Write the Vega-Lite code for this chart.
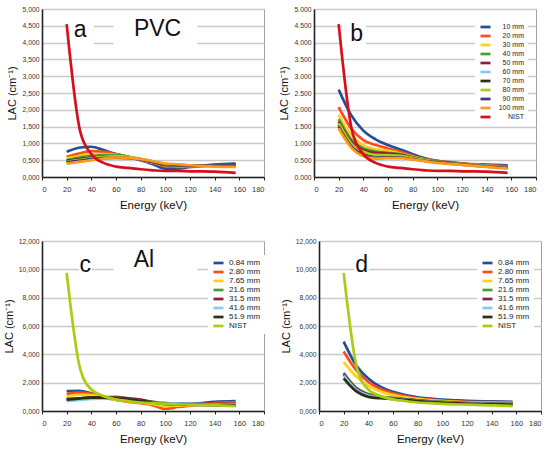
{
  "$schema": "https://vega.github.io/schema/vega-lite/v6.json",
  "padding": {"left": 2, "top": 5, "right": 4, "bottom": 2},
  "background": "white",
  "spacing": 25,
  "resolve": {"scale": {"color": "independent"}, "legend": {"color": "independent"}},
  "config": {
    "font": "Liberation Sans",
    "view": {"stroke": "#a0a0a0", "strokeWidth": 1},
    "axis": {
      "labelFont": "Liberation Sans", "labelColor": "#333",
      "titleFont": "Liberation Sans", "titleFontWeight": "normal", "titleColor": "#111",
      "domainColor": "#222", "domainWidth": 1.6,
      "gridColor": "#cacaca", "gridWidth": 1.3, "tickColor": "#222"
    },
    "axisX": {"grid": false, "tickSize": 3, "labelFontSize": 7.5, "labelPadding": 5, "titleFontSize": 11.5, "titlePadding": 7},
    "axisY": {"ticks": false, "labelFontSize": 6.8, "labelPadding": 3, "titleFontSize": 11, "titlePadding": 4},
    "legend": {
      "orient": "none", "fillColor": "white", "padding": 4,
      "symbolType": "stroke", "symbolStrokeWidth": 2.5, "symbolSize": 100, "clipHeight": 8,
      "labelFontSize": 8, "labelColor": "#222", "rowPadding": 1, "title": null
    },
    "line": {"strokeWidth": 2.7, "interpolate": "monotone"}
  },
  "datasets": {
    "pvcA": [
      {"s":"10 mm","e":20,"v":0.75},{"s":"10 mm","e":30,"v":0.87},{"s":"10 mm","e":40,"v":0.9},{"s":"10 mm","e":50,"v":0.8},{"s":"10 mm","e":60,"v":0.68},{"s":"10 mm","e":70,"v":0.6},{"s":"10 mm","e":80,"v":0.5},{"s":"10 mm","e":90,"v":0.38},{"s":"10 mm","e":100,"v":0.25},{"s":"10 mm","e":110,"v":0.25},{"s":"10 mm","e":120,"v":0.3},{"s":"10 mm","e":140,"v":0.37},{"s":"10 mm","e":157,"v":0.4},
      {"s":"20 mm","e":20,"v":0.6},{"s":"20 mm","e":30,"v":0.7},{"s":"20 mm","e":40,"v":0.77},{"s":"20 mm","e":50,"v":0.75},{"s":"20 mm","e":60,"v":0.68},{"s":"20 mm","e":70,"v":0.6},{"s":"20 mm","e":80,"v":0.5},{"s":"20 mm","e":90,"v":0.42},{"s":"20 mm","e":100,"v":0.32},{"s":"20 mm","e":110,"v":0.3},{"s":"20 mm","e":120,"v":0.3},{"s":"20 mm","e":140,"v":0.34},{"s":"20 mm","e":157,"v":0.35},
      {"s":"30 mm","e":20,"v":0.55},{"s":"30 mm","e":30,"v":0.62},{"s":"30 mm","e":40,"v":0.68},{"s":"30 mm","e":50,"v":0.68},{"s":"30 mm","e":60,"v":0.66},{"s":"30 mm","e":70,"v":0.6},{"s":"30 mm","e":80,"v":0.52},{"s":"30 mm","e":90,"v":0.43},{"s":"30 mm","e":100,"v":0.35},{"s":"30 mm","e":110,"v":0.33},{"s":"30 mm","e":120,"v":0.32},{"s":"30 mm","e":140,"v":0.34},{"s":"30 mm","e":157,"v":0.35},
      {"s":"40 mm","e":20,"v":0.5},{"s":"40 mm","e":30,"v":0.58},{"s":"40 mm","e":40,"v":0.62},{"s":"40 mm","e":50,"v":0.65},{"s":"40 mm","e":60,"v":0.65},{"s":"40 mm","e":70,"v":0.6},{"s":"40 mm","e":80,"v":0.52},{"s":"40 mm","e":90,"v":0.44},{"s":"40 mm","e":100,"v":0.36},{"s":"40 mm","e":110,"v":0.34},{"s":"40 mm","e":120,"v":0.33},{"s":"40 mm","e":140,"v":0.34},{"s":"40 mm","e":157,"v":0.34},
      {"s":"50 mm","e":20,"v":0.48},{"s":"50 mm","e":30,"v":0.52},{"s":"50 mm","e":40,"v":0.58},{"s":"50 mm","e":50,"v":0.6},{"s":"50 mm","e":60,"v":0.6},{"s":"50 mm","e":70,"v":0.58},{"s":"50 mm","e":80,"v":0.52},{"s":"50 mm","e":90,"v":0.44},{"s":"50 mm","e":100,"v":0.36},{"s":"50 mm","e":110,"v":0.35},{"s":"50 mm","e":120,"v":0.33},{"s":"50 mm","e":140,"v":0.34},{"s":"50 mm","e":157,"v":0.35},
      {"s":"60 mm","e":20,"v":0.45},{"s":"60 mm","e":30,"v":0.5},{"s":"60 mm","e":40,"v":0.55},{"s":"60 mm","e":50,"v":0.58},{"s":"60 mm","e":60,"v":0.58},{"s":"60 mm","e":70,"v":0.57},{"s":"60 mm","e":80,"v":0.52},{"s":"60 mm","e":90,"v":0.44},{"s":"60 mm","e":100,"v":0.37},{"s":"60 mm","e":110,"v":0.35},{"s":"60 mm","e":120,"v":0.34},{"s":"60 mm","e":140,"v":0.35},{"s":"60 mm","e":157,"v":0.36},
      {"s":"70 mm","e":20,"v":0.47},{"s":"70 mm","e":30,"v":0.52},{"s":"70 mm","e":40,"v":0.57},{"s":"70 mm","e":50,"v":0.6},{"s":"70 mm","e":60,"v":0.6},{"s":"70 mm","e":70,"v":0.58},{"s":"70 mm","e":80,"v":0.53},{"s":"70 mm","e":90,"v":0.45},{"s":"70 mm","e":100,"v":0.37},{"s":"70 mm","e":110,"v":0.35},{"s":"70 mm","e":120,"v":0.34},{"s":"70 mm","e":140,"v":0.35},{"s":"70 mm","e":157,"v":0.37},
      {"s":"80 mm","e":20,"v":0.46},{"s":"80 mm","e":30,"v":0.5},{"s":"80 mm","e":40,"v":0.56},{"s":"80 mm","e":50,"v":0.6},{"s":"80 mm","e":60,"v":0.62},{"s":"80 mm","e":70,"v":0.6},{"s":"80 mm","e":80,"v":0.54},{"s":"80 mm","e":90,"v":0.46},{"s":"80 mm","e":100,"v":0.38},{"s":"80 mm","e":110,"v":0.36},{"s":"80 mm","e":120,"v":0.34},{"s":"80 mm","e":140,"v":0.34},{"s":"80 mm","e":157,"v":0.35},
      {"s":"90 mm","e":20,"v":0.44},{"s":"90 mm","e":30,"v":0.48},{"s":"90 mm","e":40,"v":0.53},{"s":"90 mm","e":50,"v":0.56},{"s":"90 mm","e":60,"v":0.57},{"s":"90 mm","e":70,"v":0.56},{"s":"90 mm","e":80,"v":0.52},{"s":"90 mm","e":90,"v":0.45},{"s":"90 mm","e":100,"v":0.38},{"s":"90 mm","e":110,"v":0.36},{"s":"90 mm","e":120,"v":0.34},{"s":"90 mm","e":140,"v":0.34},{"s":"90 mm","e":157,"v":0.34},
      {"s":"100 mm","e":20,"v":0.4},{"s":"100 mm","e":30,"v":0.45},{"s":"100 mm","e":40,"v":0.5},{"s":"100 mm","e":50,"v":0.55},{"s":"100 mm","e":60,"v":0.58},{"s":"100 mm","e":70,"v":0.57},{"s":"100 mm","e":80,"v":0.53},{"s":"100 mm","e":90,"v":0.47},{"s":"100 mm","e":100,"v":0.4},{"s":"100 mm","e":110,"v":0.38},{"s":"100 mm","e":120,"v":0.35},{"s":"100 mm","e":140,"v":0.31},{"s":"100 mm","e":157,"v":0.3},
      {"s":"NIST","e":20,"v":4.55},{"s":"NIST","e":31,"v":1.35},{"s":"NIST","e":40,"v":0.68},{"s":"NIST","e":50,"v":0.42},{"s":"NIST","e":60,"v":0.31},{"s":"NIST","e":70,"v":0.27},{"s":"NIST","e":80,"v":0.23},{"s":"NIST","e":90,"v":0.2},{"s":"NIST","e":100,"v":0.18},{"s":"NIST","e":110,"v":0.18},{"s":"NIST","e":120,"v":0.17},{"s":"NIST","e":140,"v":0.16},{"s":"NIST","e":157,"v":0.12}
    ],
    "pvcB": [
      {"s":"10 mm","e":20,"v":2.6},{"s":"10 mm","e":30,"v":1.85},{"s":"10 mm","e":40,"v":1.38},{"s":"10 mm","e":50,"v":1.12},{"s":"10 mm","e":60,"v":0.95},{"s":"10 mm","e":70,"v":0.82},{"s":"10 mm","e":80,"v":0.68},{"s":"10 mm","e":90,"v":0.56},{"s":"10 mm","e":100,"v":0.48},{"s":"10 mm","e":110,"v":0.44},{"s":"10 mm","e":120,"v":0.4},{"s":"10 mm","e":140,"v":0.37},{"s":"10 mm","e":157,"v":0.35},
      {"s":"20 mm","e":20,"v":2.08},{"s":"20 mm","e":30,"v":1.45},{"s":"20 mm","e":40,"v":1.1},{"s":"20 mm","e":50,"v":0.95},{"s":"20 mm","e":60,"v":0.85},{"s":"20 mm","e":70,"v":0.75},{"s":"20 mm","e":80,"v":0.63},{"s":"20 mm","e":90,"v":0.53},{"s":"20 mm","e":100,"v":0.47},{"s":"20 mm","e":110,"v":0.43},{"s":"20 mm","e":120,"v":0.4},{"s":"20 mm","e":140,"v":0.35},{"s":"20 mm","e":157,"v":0.32},
      {"s":"30 mm","e":20,"v":1.85},{"s":"30 mm","e":30,"v":1.25},{"s":"30 mm","e":40,"v":0.95},{"s":"30 mm","e":50,"v":0.83},{"s":"30 mm","e":60,"v":0.78},{"s":"30 mm","e":70,"v":0.7},{"s":"30 mm","e":80,"v":0.6},{"s":"30 mm","e":90,"v":0.52},{"s":"30 mm","e":100,"v":0.46},{"s":"30 mm","e":110,"v":0.42},{"s":"30 mm","e":120,"v":0.39},{"s":"30 mm","e":140,"v":0.34},{"s":"30 mm","e":157,"v":0.3},
      {"s":"40 mm","e":20,"v":1.72},{"s":"40 mm","e":30,"v":1.12},{"s":"40 mm","e":40,"v":0.86},{"s":"40 mm","e":50,"v":0.76},{"s":"40 mm","e":60,"v":0.72},{"s":"40 mm","e":70,"v":0.68},{"s":"40 mm","e":80,"v":0.59},{"s":"40 mm","e":90,"v":0.51},{"s":"40 mm","e":100,"v":0.46},{"s":"40 mm","e":110,"v":0.42},{"s":"40 mm","e":120,"v":0.39},{"s":"40 mm","e":140,"v":0.33},{"s":"40 mm","e":157,"v":0.3},
      {"s":"50 mm","e":20,"v":1.65},{"s":"50 mm","e":30,"v":1.05},{"s":"50 mm","e":40,"v":0.8},{"s":"50 mm","e":50,"v":0.72},{"s":"50 mm","e":60,"v":0.7},{"s":"50 mm","e":70,"v":0.66},{"s":"50 mm","e":80,"v":0.58},{"s":"50 mm","e":90,"v":0.51},{"s":"50 mm","e":100,"v":0.46},{"s":"50 mm","e":110,"v":0.42},{"s":"50 mm","e":120,"v":0.39},{"s":"50 mm","e":140,"v":0.33},{"s":"50 mm","e":157,"v":0.3},
      {"s":"60 mm","e":20,"v":1.58},{"s":"60 mm","e":30,"v":0.98},{"s":"60 mm","e":40,"v":0.73},{"s":"60 mm","e":50,"v":0.63},{"s":"60 mm","e":60,"v":0.62},{"s":"60 mm","e":70,"v":0.62},{"s":"60 mm","e":80,"v":0.56},{"s":"60 mm","e":90,"v":0.5},{"s":"60 mm","e":100,"v":0.45},{"s":"60 mm","e":110,"v":0.41},{"s":"60 mm","e":120,"v":0.38},{"s":"60 mm","e":140,"v":0.33},{"s":"60 mm","e":157,"v":0.29},
      {"s":"70 mm","e":20,"v":1.55},{"s":"70 mm","e":30,"v":0.97},{"s":"70 mm","e":40,"v":0.72},{"s":"70 mm","e":50,"v":0.65},{"s":"70 mm","e":60,"v":0.64},{"s":"70 mm","e":70,"v":0.62},{"s":"70 mm","e":80,"v":0.56},{"s":"70 mm","e":90,"v":0.5},{"s":"70 mm","e":100,"v":0.45},{"s":"70 mm","e":110,"v":0.41},{"s":"70 mm","e":120,"v":0.38},{"s":"70 mm","e":140,"v":0.32},{"s":"70 mm","e":157,"v":0.28},
      {"s":"80 mm","e":20,"v":1.6},{"s":"80 mm","e":30,"v":1.0},{"s":"80 mm","e":40,"v":0.75},{"s":"80 mm","e":50,"v":0.66},{"s":"80 mm","e":60,"v":0.65},{"s":"80 mm","e":70,"v":0.63},{"s":"80 mm","e":80,"v":0.57},{"s":"80 mm","e":90,"v":0.5},{"s":"80 mm","e":100,"v":0.45},{"s":"80 mm","e":110,"v":0.41},{"s":"80 mm","e":120,"v":0.38},{"s":"80 mm","e":140,"v":0.32},{"s":"80 mm","e":157,"v":0.28},
      {"s":"90 mm","e":20,"v":1.5},{"s":"90 mm","e":30,"v":0.92},{"s":"90 mm","e":40,"v":0.65},{"s":"90 mm","e":50,"v":0.56},{"s":"90 mm","e":60,"v":0.58},{"s":"90 mm","e":70,"v":0.58},{"s":"90 mm","e":80,"v":0.53},{"s":"90 mm","e":90,"v":0.48},{"s":"90 mm","e":100,"v":0.44},{"s":"90 mm","e":110,"v":0.4},{"s":"90 mm","e":120,"v":0.37},{"s":"90 mm","e":140,"v":0.31},{"s":"90 mm","e":157,"v":0.27},
      {"s":"100 mm","e":20,"v":1.45},{"s":"100 mm","e":30,"v":0.88},{"s":"100 mm","e":40,"v":0.62},{"s":"100 mm","e":50,"v":0.55},{"s":"100 mm","e":60,"v":0.56},{"s":"100 mm","e":70,"v":0.56},{"s":"100 mm","e":80,"v":0.52},{"s":"100 mm","e":90,"v":0.47},{"s":"100 mm","e":100,"v":0.42},{"s":"100 mm","e":110,"v":0.39},{"s":"100 mm","e":120,"v":0.36},{"s":"100 mm","e":140,"v":0.3},{"s":"100 mm","e":157,"v":0.25},
      {"s":"NIST","e":20,"v":4.55},{"s":"NIST","e":31,"v":1.35},{"s":"NIST","e":40,"v":0.68},{"s":"NIST","e":50,"v":0.42},{"s":"NIST","e":60,"v":0.31},{"s":"NIST","e":70,"v":0.27},{"s":"NIST","e":80,"v":0.23},{"s":"NIST","e":90,"v":0.2},{"s":"NIST","e":100,"v":0.18},{"s":"NIST","e":110,"v":0.18},{"s":"NIST","e":120,"v":0.17},{"s":"NIST","e":140,"v":0.16},{"s":"NIST","e":157,"v":0.12}
    ],
    "alC": [
      {"s":"0.84 mm","e":20,"v":1.4},{"s":"0.84 mm","e":30,"v":1.42},{"s":"0.84 mm","e":40,"v":1.25},{"s":"0.84 mm","e":50,"v":1.0},{"s":"0.84 mm","e":60,"v":0.82},{"s":"0.84 mm","e":70,"v":0.72},{"s":"0.84 mm","e":80,"v":0.65},{"s":"0.84 mm","e":90,"v":0.58},{"s":"0.84 mm","e":100,"v":0.5},{"s":"0.84 mm","e":110,"v":0.5},{"s":"0.84 mm","e":120,"v":0.5},{"s":"0.84 mm","e":140,"v":0.65},{"s":"0.84 mm","e":157,"v":0.7},
      {"s":"2.80 mm","e":20,"v":1.2},{"s":"2.80 mm","e":30,"v":1.3},{"s":"2.80 mm","e":40,"v":1.22},{"s":"2.80 mm","e":50,"v":0.98},{"s":"2.80 mm","e":60,"v":0.78},{"s":"2.80 mm","e":70,"v":0.65},{"s":"2.80 mm","e":80,"v":0.55},{"s":"2.80 mm","e":90,"v":0.4},{"s":"2.80 mm","e":100,"v":0.15},{"s":"2.80 mm","e":110,"v":0.28},{"s":"2.80 mm","e":120,"v":0.38},{"s":"2.80 mm","e":140,"v":0.55},{"s":"2.80 mm","e":157,"v":0.62},
      {"s":"7.65 mm","e":20,"v":1.0},{"s":"7.65 mm","e":30,"v":1.15},{"s":"7.65 mm","e":40,"v":1.12},{"s":"7.65 mm","e":50,"v":0.95},{"s":"7.65 mm","e":60,"v":0.8},{"s":"7.65 mm","e":70,"v":0.7},{"s":"7.65 mm","e":80,"v":0.6},{"s":"7.65 mm","e":90,"v":0.48},{"s":"7.65 mm","e":100,"v":0.35},{"s":"7.65 mm","e":110,"v":0.38},{"s":"7.65 mm","e":120,"v":0.42},{"s":"7.65 mm","e":140,"v":0.48},{"s":"7.65 mm","e":157,"v":0.5},
      {"s":"21.6 mm","e":20,"v":0.85},{"s":"21.6 mm","e":30,"v":0.9},{"s":"21.6 mm","e":40,"v":0.95},{"s":"21.6 mm","e":50,"v":0.98},{"s":"21.6 mm","e":60,"v":1.0},{"s":"21.6 mm","e":70,"v":0.88},{"s":"21.6 mm","e":80,"v":0.75},{"s":"21.6 mm","e":90,"v":0.62},{"s":"21.6 mm","e":100,"v":0.5},{"s":"21.6 mm","e":110,"v":0.48},{"s":"21.6 mm","e":120,"v":0.45},{"s":"21.6 mm","e":140,"v":0.42},{"s":"21.6 mm","e":157,"v":0.4},
      {"s":"31.5 mm","e":20,"v":0.8},{"s":"31.5 mm","e":30,"v":0.88},{"s":"31.5 mm","e":40,"v":0.95},{"s":"31.5 mm","e":50,"v":0.97},{"s":"31.5 mm","e":60,"v":0.95},{"s":"31.5 mm","e":70,"v":0.9},{"s":"31.5 mm","e":80,"v":0.8},{"s":"31.5 mm","e":90,"v":0.65},{"s":"31.5 mm","e":100,"v":0.55},{"s":"31.5 mm","e":110,"v":0.52},{"s":"31.5 mm","e":120,"v":0.5},{"s":"31.5 mm","e":140,"v":0.5},{"s":"31.5 mm","e":157,"v":0.5},
      {"s":"41.6 mm","e":20,"v":0.7},{"s":"41.6 mm","e":30,"v":0.78},{"s":"41.6 mm","e":40,"v":0.85},{"s":"41.6 mm","e":50,"v":0.88},{"s":"41.6 mm","e":60,"v":0.85},{"s":"41.6 mm","e":70,"v":0.8},{"s":"41.6 mm","e":80,"v":0.7},{"s":"41.6 mm","e":90,"v":0.6},{"s":"41.6 mm","e":100,"v":0.55},{"s":"41.6 mm","e":110,"v":0.52},{"s":"41.6 mm","e":120,"v":0.5},{"s":"41.6 mm","e":140,"v":0.47},{"s":"41.6 mm","e":157,"v":0.45},
      {"s":"51.9 mm","e":20,"v":0.8},{"s":"51.9 mm","e":30,"v":0.88},{"s":"51.9 mm","e":40,"v":0.95},{"s":"51.9 mm","e":50,"v":0.95},{"s":"51.9 mm","e":60,"v":0.9},{"s":"51.9 mm","e":70,"v":0.82},{"s":"51.9 mm","e":80,"v":0.72},{"s":"51.9 mm","e":90,"v":0.6},{"s":"51.9 mm","e":100,"v":0.5},{"s":"51.9 mm","e":110,"v":0.47},{"s":"51.9 mm","e":120,"v":0.45},{"s":"51.9 mm","e":140,"v":0.42},{"s":"51.9 mm","e":157,"v":0.4},
      {"s":"NIST","e":20,"v":9.75},{"s":"NIST","e":31,"v":2.95},{"s":"NIST","e":40,"v":1.52},{"s":"NIST","e":50,"v":1.05},{"s":"NIST","e":60,"v":0.82},{"s":"NIST","e":70,"v":0.7},{"s":"NIST","e":80,"v":0.6},{"s":"NIST","e":90,"v":0.55},{"s":"NIST","e":100,"v":0.5},{"s":"NIST","e":110,"v":0.47},{"s":"NIST","e":120,"v":0.45},{"s":"NIST","e":140,"v":0.4},{"s":"NIST","e":157,"v":0.35}
    ],
    "alD": [
      {"s":"0.84 mm","e":20,"v":4.9},{"s":"0.84 mm","e":30,"v":3.25},{"s":"0.84 mm","e":40,"v":2.3},{"s":"0.84 mm","e":50,"v":1.7},{"s":"0.84 mm","e":60,"v":1.35},{"s":"0.84 mm","e":70,"v":1.12},{"s":"0.84 mm","e":80,"v":0.97},{"s":"0.84 mm","e":90,"v":0.88},{"s":"0.84 mm","e":100,"v":0.8},{"s":"0.84 mm","e":110,"v":0.76},{"s":"0.84 mm","e":120,"v":0.72},{"s":"0.84 mm","e":140,"v":0.68},{"s":"0.84 mm","e":157,"v":0.65},
      {"s":"2.80 mm","e":20,"v":4.2},{"s":"2.80 mm","e":30,"v":2.9},{"s":"2.80 mm","e":40,"v":2.05},{"s":"2.80 mm","e":50,"v":1.55},{"s":"2.80 mm","e":60,"v":1.25},{"s":"2.80 mm","e":70,"v":1.05},{"s":"2.80 mm","e":80,"v":0.9},{"s":"2.80 mm","e":90,"v":0.8},{"s":"2.80 mm","e":100,"v":0.73},{"s":"2.80 mm","e":110,"v":0.68},{"s":"2.80 mm","e":120,"v":0.65},{"s":"2.80 mm","e":140,"v":0.62},{"s":"2.80 mm","e":157,"v":0.6},
      {"s":"7.65 mm","e":20,"v":3.45},{"s":"7.65 mm","e":30,"v":2.45},{"s":"7.65 mm","e":40,"v":1.78},{"s":"7.65 mm","e":50,"v":1.38},{"s":"7.65 mm","e":60,"v":1.12},{"s":"7.65 mm","e":70,"v":0.96},{"s":"7.65 mm","e":80,"v":0.85},{"s":"7.65 mm","e":90,"v":0.76},{"s":"7.65 mm","e":100,"v":0.7},{"s":"7.65 mm","e":110,"v":0.65},{"s":"7.65 mm","e":120,"v":0.61},{"s":"7.65 mm","e":140,"v":0.57},{"s":"7.65 mm","e":157,"v":0.55},
      {"s":"21.6 mm","e":20,"v":2.7},{"s":"21.6 mm","e":30,"v":1.65},{"s":"21.6 mm","e":40,"v":1.2},{"s":"21.6 mm","e":50,"v":1.02},{"s":"21.6 mm","e":60,"v":0.92},{"s":"21.6 mm","e":70,"v":0.84},{"s":"21.6 mm","e":80,"v":0.76},{"s":"21.6 mm","e":90,"v":0.69},{"s":"21.6 mm","e":100,"v":0.64},{"s":"21.6 mm","e":110,"v":0.6},{"s":"21.6 mm","e":120,"v":0.56},{"s":"21.6 mm","e":140,"v":0.52},{"s":"21.6 mm","e":157,"v":0.5},
      {"s":"31.5 mm","e":20,"v":2.6},{"s":"31.5 mm","e":30,"v":1.6},{"s":"31.5 mm","e":40,"v":1.15},{"s":"31.5 mm","e":50,"v":0.98},{"s":"31.5 mm","e":60,"v":0.9},{"s":"31.5 mm","e":70,"v":0.82},{"s":"31.5 mm","e":80,"v":0.75},{"s":"31.5 mm","e":90,"v":0.68},{"s":"31.5 mm","e":100,"v":0.63},{"s":"31.5 mm","e":110,"v":0.59},{"s":"31.5 mm","e":120,"v":0.56},{"s":"31.5 mm","e":140,"v":0.52},{"s":"31.5 mm","e":157,"v":0.5},
      {"s":"41.6 mm","e":20,"v":2.5},{"s":"41.6 mm","e":30,"v":1.52},{"s":"41.6 mm","e":40,"v":1.1},{"s":"41.6 mm","e":50,"v":0.95},{"s":"41.6 mm","e":60,"v":0.88},{"s":"41.6 mm","e":70,"v":0.8},{"s":"41.6 mm","e":80,"v":0.72},{"s":"41.6 mm","e":90,"v":0.66},{"s":"41.6 mm","e":100,"v":0.61},{"s":"41.6 mm","e":110,"v":0.57},{"s":"41.6 mm","e":120,"v":0.54},{"s":"41.6 mm","e":140,"v":0.5},{"s":"41.6 mm","e":157,"v":0.48},
      {"s":"51.9 mm","e":20,"v":2.3},{"s":"51.9 mm","e":30,"v":1.4},{"s":"51.9 mm","e":40,"v":1.0},{"s":"51.9 mm","e":50,"v":0.9},{"s":"51.9 mm","e":60,"v":0.85},{"s":"51.9 mm","e":70,"v":0.78},{"s":"51.9 mm","e":80,"v":0.7},{"s":"51.9 mm","e":90,"v":0.64},{"s":"51.9 mm","e":100,"v":0.6},{"s":"51.9 mm","e":110,"v":0.55},{"s":"51.9 mm","e":120,"v":0.52},{"s":"51.9 mm","e":140,"v":0.48},{"s":"51.9 mm","e":157,"v":0.45},
      {"s":"NIST","e":20,"v":9.75},{"s":"NIST","e":31,"v":2.95},{"s":"NIST","e":40,"v":1.52},{"s":"NIST","e":50,"v":1.05},{"s":"NIST","e":60,"v":0.82},{"s":"NIST","e":70,"v":0.7},{"s":"NIST","e":80,"v":0.6},{"s":"NIST","e":90,"v":0.55},{"s":"NIST","e":100,"v":0.5},{"s":"NIST","e":110,"v":0.47},{"s":"NIST","e":120,"v":0.45},{"s":"NIST","e":140,"v":0.4},{"s":"NIST","e":157,"v":0.35}
    ],
    "labels": [
      {"p":"a","t":"a","e":31,"v":4.16},
      {"p":"a","t":"PVC","e":93.7,"v":4.2},
      {"p":"b","t":"b","e":34.5,"v":4.06},
      {"p":"c","t":"c","e":35,"v":9.79},
      {"p":"c","t":"Al","e":82.7,"v":10.14},
      {"p":"d","t":"d","e":34.5,"v":9.79}
    ],
    "boxes": [
      {"p":"a","e":21,"e2":42,"v":3.8,"v2":4.7},
      {"p":"a","e":58,"e2":126,"v":3.8,"v2":4.7},
      {"p":"b","e":23,"e2":42,"v":3.8,"v2":4.7},
      {"p":"c","e":30,"e2":40.5,"v":9.3,"v2":11},
      {"p":"c","e":58,"e2":126,"v":9.3,"v2":11},
      {"p":"d","e":28.5,"e2":40.5,"v":9.3,"v2":11}
    ]
  },
  "vconcat": [
    {
      "spacing": 13,
      "resolve": {"scale": {"color": "independent"}, "legend": {"color": "independent"}},
      "hconcat": [
        {
          "width": 222, "height": 168,
          "encoding": {
            "x": {"field": "e", "type": "quantitative", "scale": {"domain": [0, 180]}, "axis": {"title": "Energy (keV)", "values": [0,20,40,60,80,100,120,140,160,180]}},
            "y": {"field": "v", "type": "quantitative", "scale": {"domain": [0, 5]}, "axis": {"title": "LAC (cm⁻¹)", "values": [0,0.5,1,1.5,2,2.5,3,3.5,4,4.5,5], "labelExpr": "replace(format(datum.value, '.3f'), '.', ',')"}}
          },
          "layer": [
            {"data": {"name": "boxes"}, "transform": [{"filter": "datum.p === 'a'"}], "mark": {"type": "rect", "fill": "white"}, "encoding": {"x2": {"field": "e2"}, "y2": {"field": "v2"}}},
            {"data": {"name": "pvcA"}, "mark": "line", "encoding": {"color": {"field": "s", "type": "nominal", "legend": null,
              "scale": {"domain": ["10 mm","20 mm","30 mm","40 mm","50 mm","60 mm","70 mm","80 mm","90 mm","100 mm","NIST"], "range": ["#1f4e9a","#ff4a1c","#ffd11a","#4aa02c","#8f1d3c","#80ccf5","#2d2f10","#a9cc14","#4b2a88","#ff9a14","#d4101c"]}}}},
            {"data": {"name": "labels"}, "transform": [{"filter": "datum.p === 'a'"}], "mark": {"type": "text", "fontSize": 23, "baseline": "alphabetic", "color": "#111"}, "encoding": {"text": {"field": "t"}}}
          ]
        },
        {
          "width": 222, "height": 168,
          "encoding": {
            "x": {"field": "e", "type": "quantitative", "scale": {"domain": [0, 180]}, "axis": {"title": "Energy (keV)", "values": [0,20,40,60,80,100,120,140,160,180]}},
            "y": {"field": "v", "type": "quantitative", "scale": {"domain": [0, 5]}, "axis": {"title": "LAC (cm⁻¹)", "values": [0,0.5,1,1.5,2,2.5,3,3.5,4,4.5,5], "format": ".3f"}}
          },
          "layer": [
            {"data": {"name": "boxes"}, "transform": [{"filter": "datum.p === 'b'"}], "mark": {"type": "rect", "fill": "white"}, "encoding": {"x2": {"field": "e2"}, "y2": {"field": "v2"}}},
            {"data": {"name": "pvcB"}, "mark": "line", "encoding": {"color": {"field": "s", "type": "nominal",
              "legend": {"legendX": 161, "legendY": 10, "labelAlign": "right", "labelOffset": 32, "labelFontSize": 7},
              "scale": {"domain": ["10 mm","20 mm","30 mm","40 mm","50 mm","60 mm","70 mm","80 mm","90 mm","100 mm","NIST"], "range": ["#1f4e9a","#ff4a1c","#ffd11a","#4aa02c","#8f1d3c","#80ccf5","#2d2f10","#a9cc14","#4b2a88","#ff9a14","#d4101c"]}}}},
            {"data": {"name": "labels"}, "transform": [{"filter": "datum.p === 'b'"}], "mark": {"type": "text", "fontSize": 23, "baseline": "alphabetic", "color": "#111"}, "encoding": {"text": {"field": "t"}}}
          ]
        }
      ]
    },
    {
      "spacing": 13,
      "resolve": {"scale": {"color": "independent"}, "legend": {"color": "independent"}},
      "hconcat": [
        {
          "width": 222, "height": 170,
          "encoding": {
            "x": {"field": "e", "type": "quantitative", "scale": {"domain": [0, 180]}, "axis": {"title": "Energy (keV)", "values": [0,20,40,60,80,100,120,140,160,180]}},
            "y": {"field": "v", "type": "quantitative", "scale": {"domain": [0, 12]}, "axis": {"title": "LAC (cm⁻¹)", "values": [0,2,4,6,8,10,12], "labelExpr": "replace(format(datum.value, '.3f'), '.', ',')"}}
          },
          "layer": [
            {"data": {"name": "boxes"}, "transform": [{"filter": "datum.p === 'c'"}], "mark": {"type": "rect", "fill": "white"}, "encoding": {"x2": {"field": "e2"}, "y2": {"field": "v2"}}},
            {"data": {"name": "alC"}, "mark": "line", "encoding": {"color": {"field": "s", "type": "nominal",
              "legend": {"legendX": 166, "legendY": 14},
              "scale": {"domain": ["0.84 mm","2.80 mm","7.65 mm","21.6 mm","31.5 mm","41.6 mm","51.9 mm","NIST"], "range": ["#1f4e9a","#ff4a1c","#ffd11a","#4aa02c","#8f1d3c","#80ccf5","#2d2f10","#a9cc14"]}}}},
            {"data": {"name": "labels"}, "transform": [{"filter": "datum.p === 'c'"}], "mark": {"type": "text", "fontSize": 23, "baseline": "alphabetic", "color": "#111"}, "encoding": {"text": {"field": "t"}}}
          ]
        },
        {
          "width": 222, "height": 170,
          "encoding": {
            "x": {"field": "e", "type": "quantitative", "scale": {"domain": [0, 180]}, "axis": {"title": "Energy (keV)", "values": [0,20,40,60,80,100,120,140,160,180]}},
            "y": {"field": "v", "type": "quantitative", "scale": {"domain": [0, 12]}, "axis": {"title": "LAC (cm⁻¹)", "values": [0,2,4,6,8,10,12], "labelExpr": "replace(format(datum.value, '.3f'), '.', ',')"}}
          },
          "layer": [
            {"data": {"name": "boxes"}, "transform": [{"filter": "datum.p === 'd'"}], "mark": {"type": "rect", "fill": "white"}, "encoding": {"x2": {"field": "e2"}, "y2": {"field": "v2"}}},
            {"data": {"name": "alD"}, "mark": "line", "encoding": {"color": {"field": "s", "type": "nominal",
              "legend": {"legendX": 158, "legendY": 14},
              "scale": {"domain": ["0.84 mm","2.80 mm","7.65 mm","21.6 mm","31.5 mm","41.6 mm","51.9 mm","NIST"], "range": ["#1f4e9a","#ff4a1c","#ffd11a","#4aa02c","#8f1d3c","#80ccf5","#2d2f10","#a9cc14"]}}}},
            {"data": {"name": "labels"}, "transform": [{"filter": "datum.p === 'd'"}], "mark": {"type": "text", "fontSize": 23, "baseline": "alphabetic", "color": "#111"}, "encoding": {"text": {"field": "t"}}}
          ]
        }
      ]
    }
  ]
}
